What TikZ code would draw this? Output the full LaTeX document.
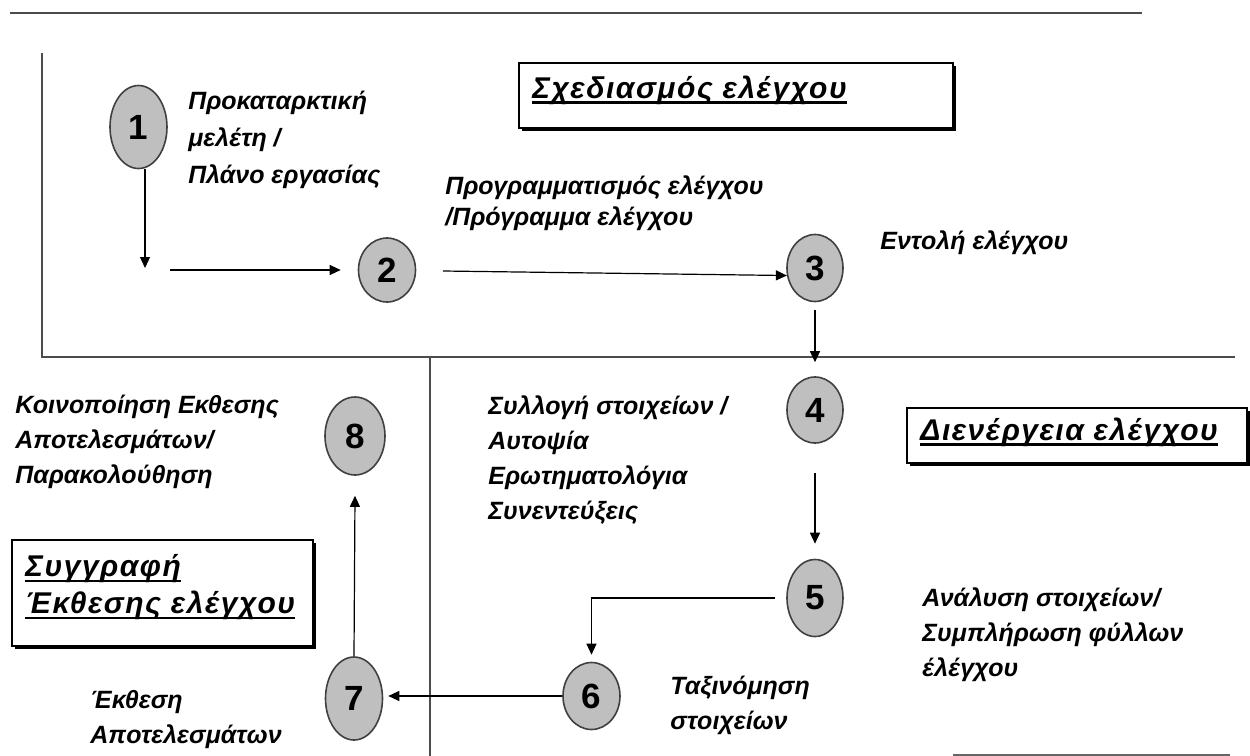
\documentclass[tikz,border=0pt]{standalone}
\usepackage{fontspec}
\setmainfont{Liberation Sans}
\newfontfamily\titlefont[LetterSpace=5]{Liberation Sans}
\usetikzlibrary{shapes.geometric,arrows.meta,shadows,calc}
\newcommand\thickul[1]{\setbox0\hbox{#1}\rlap{\rule[-3pt]{\wd0}{1.4pt}}\box0}
\begin{document}
\begin{tikzpicture}[x=0.5pt,y=-0.5pt,
  num/.style={ellipse, draw=black!75, line width=0.8pt, fill=black!25, font=\bfseries\fontsize{17.5}{19}\selectfont, inner sep=0pt},
  lbl/.style={font=\bfseries\itshape\fontsize{12.5}{17.5}\selectfont, align=left, inner sep=0pt, anchor=west},
  ttl/.style={font=\titlefont\bfseries\itshape\fontsize{15}{18.5}\selectfont, align=left, inner sep=0pt, anchor=west},
  frame/.style={draw=black, line width=1pt, fill=white, drop shadow={shadow xshift=1.5pt, shadow yshift=-1.5pt, fill=black, opacity=1}, anchor=north west, inner sep=0pt},
  sect/.style={draw=black!70, line width=1pt},
  arr/.style={-{Triangle[length=5.5pt,width=5pt]}, line width=0.6pt}]
\useasboundingbox (0,0) rectangle (1250,756);
% section lines
\draw[sect] (10,13) -- (1142,13);
\draw[sect] (42,53) -- (42,357) -- (1235,357);
\draw[sect] (430,357) -- (430,756);
\draw[black!60, line width=1.2pt] (953,755) -- (1230,755);
% frames
\node[frame, minimum width=217pt, minimum height=32.5pt] (b1) at (518,62) {};
\node[frame, minimum width=170pt, minimum height=27.5pt] (b2) at (906,407) {};
\node[frame, minimum width=150.5pt, minimum height=53pt] (b3) at (11,539) {};
\node[ttl] (t1) at (532,90) {\thickul{Σχεδιασμός ελέγχου}};
\node[ttl] (t2) at (920,432) {\thickul{Διενέργεια ελέγχου}};
\node[ttl] (t3) at (25,587) {\thickul{Συγγραφή}\\\thickul{Έκθεσης ελέγχου}};
% ellipses
\node[num, minimum width=28.5pt, minimum height=41.5pt] (1) at (138.5,127) {1};
\node[num, minimum width=28.5pt, minimum height=32pt] (2) at (387,270) {2};
\node[num, minimum width=28pt, minimum height=33.5pt] (3) at (815,268) {3};
\node[num, minimum width=28pt, minimum height=33pt] (4) at (815,410) {4};
\node[num, minimum width=28pt, minimum height=38.5pt] (5) at (815,598) {5};
\node[num, minimum width=28.5pt, minimum height=33.5pt] (6) at (591.5,696) {6};
\node[num, minimum width=28.5pt, minimum height=41.5pt] (7) at (354,698.5) {7};
\node[num, minimum width=30pt, minimum height=39pt] (8) at (355,436) {8};
% labels
\node[lbl, font=\bfseries\itshape\fontsize{12.5}{18.5}\selectfont] (l1) at (188,140) {Προκαταρκτική\\μελέτη /\\Πλάνο εργασίας};
\node[lbl, font=\bfseries\itshape\fontsize{12.5}{15.5}\selectfont] (l2) at (445,203) {Προγραμματισμός ελέγχου\\/Πρόγραμμα ελέγχου};
\node[lbl] (l3) at (880,243) {Εντολή ελέγχου};
\node[lbl] (l4) at (15,442) {Κοινοποίηση Εκθεσης\\Αποτελεσμάτων/\\Παρακολούθηση};
\node[lbl] (l5) at (488,460) {Συλλογή στοιχείων /\\Αυτοψία\\Ερωτηματολόγια\\Συνεντεύξεις};
\node[lbl] (l6) at (922,635) {Ανάλυση στοιχείων/\\Συμπλήρωση φύλλων\\έλέγχου};
\node[lbl] (l7) at (670,705) {Ταξινόμηση\\στοιχείων};
\node[lbl] (l8) at (90,720) {Έκθεση\\Αποτελεσμάτων};
% arrows
\coordinate (a1e) at (145,268);
\coordinate (a2s) at (170,270);
\coordinate (a3s) at (443,271);
\draw[arr] (1.south -| a1e) -- (a1e);
\draw[arr] (a2s) -- ([xshift=-8.5pt]2.west);
\draw[arr] (a3s) -- (3.195);
\draw[arr] ([yshift=-4pt]3.south) -- ([yshift=7pt]4.north);
\draw[arr] ([yshift=-14.5pt]4.south) -- ([yshift=7.5pt]5.north);
\draw[arr] ([xshift=-5.5pt]5.west) -| ([yshift=3.5pt]6.north);
\draw[arr] (6.west) -- ([xshift=2.5pt]7.east |- 6.west);
\draw[arr] (7.north) -- ([yshift=-10pt]8.south);
\end{tikzpicture}
\end{document}
